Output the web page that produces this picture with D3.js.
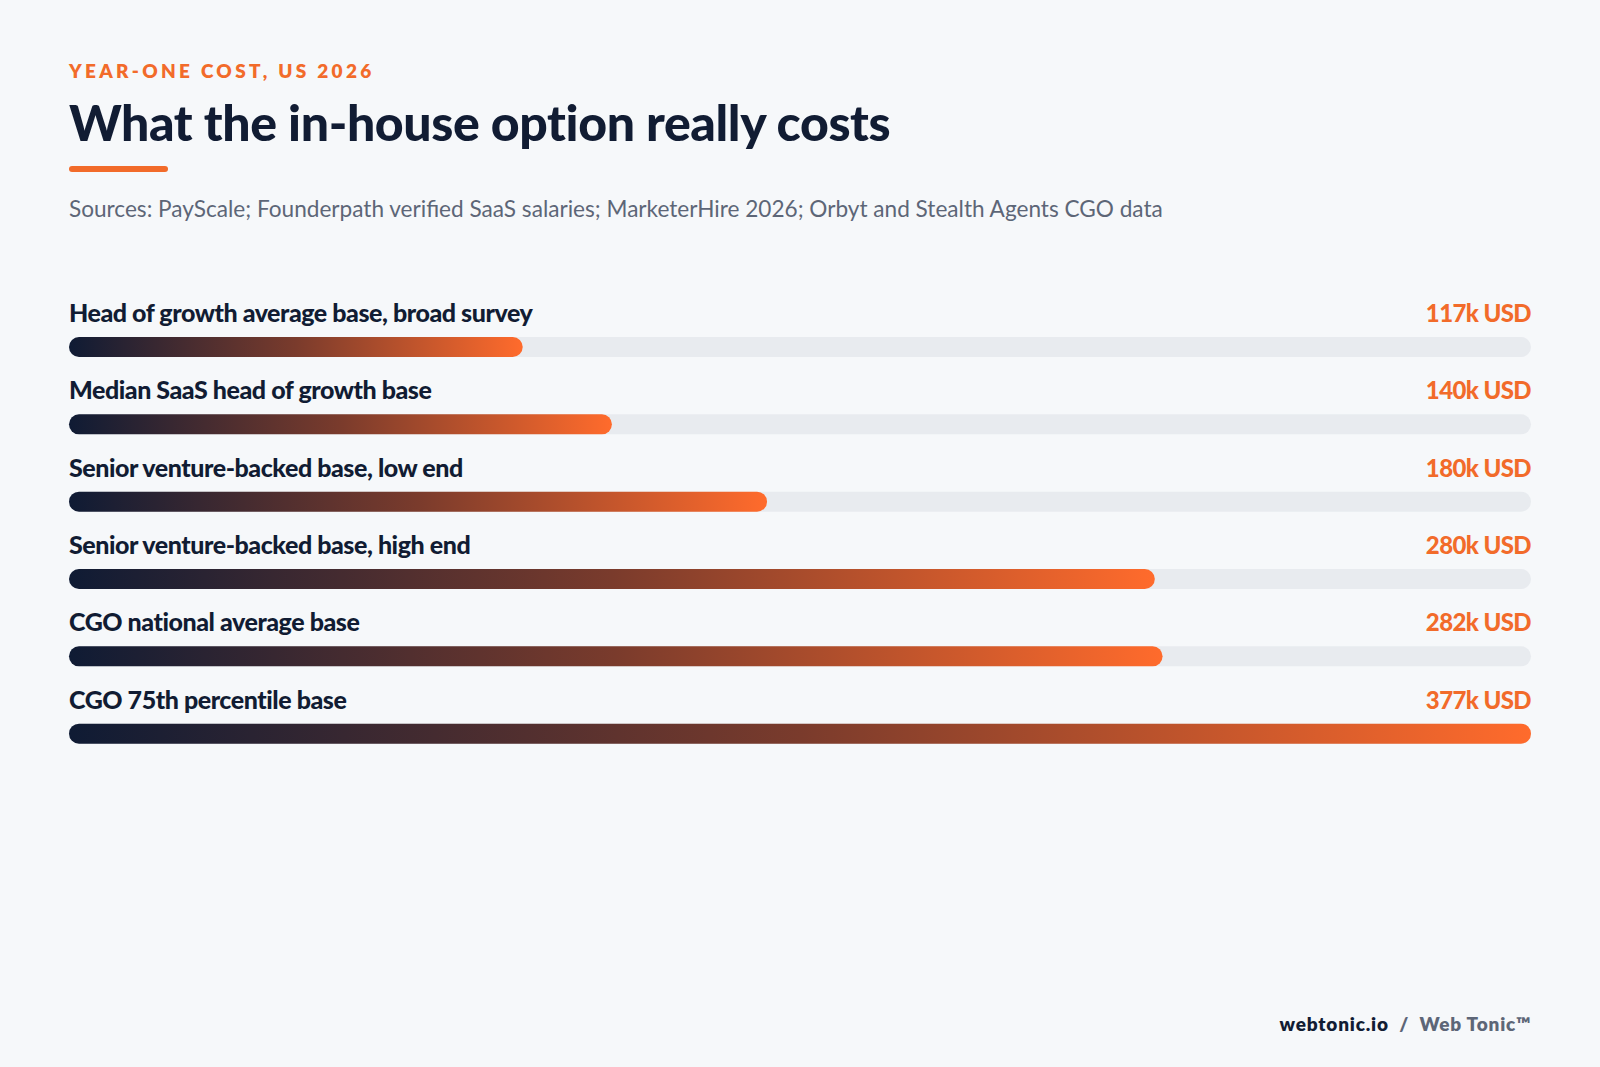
<!DOCTYPE html>
<html><head><meta charset="utf-8">
<script src="https://cdn.jsdelivr.net/npm/d3@7"></script>
<style>body{margin:0;background:#f6f8fa;}svg{display:block;font-family:Lato,sans-serif;}</style>
</head><body><svg id="c" width="1600" height="1067"></svg>
<script>
const categories=["Head of growth average base, broad survey","Median SaaS head of growth base","Senior venture-backed base, low end","Senior venture-backed base, high end","CGO national average base","CGO 75th percentile base"];
const values=[117,140,180,280,282,377];
const valueLabels=["117k USD","140k USD","180k USD","280k USD","282k USD","377k USD"];
const svg=d3.select("#c");
svg.append("rect").attr("width",1600).attr("height",1067).attr("fill","#f6f8fa");
const L=69,R=1531;
svg.append("text").attr("x",L).attr("y",78).attr("fill","#f26b2a").attr("font-size",19).attr("font-weight",800).attr("letter-spacing",3.3).text("YEAR-ONE COST, US 2026");
svg.append("text").attr("x",L).attr("y",141).attr("fill","#111c33").attr("font-size",50).attr("font-weight",900).attr("letter-spacing",-0.4).text("What the in-house option really costs");
svg.append("rect").attr("x",L).attr("y",166).attr("width",99).attr("height",6).attr("rx",3).attr("fill","#f26b2a");
svg.append("text").attr("x",L).attr("y",217).attr("fill","#5d6677").attr("font-size",22.6).text("Sources: PayScale; Founderpath verified SaaS salaries; MarketerHire 2026; Orbyt and Stealth Agents CGO data");
const x=d3.scaleLinear().domain([0,377]).range([L,R]);
const y=d3.scaleBand().domain(categories).range([300,764]).paddingInner(0);
const defs=svg.append("defs");
const bh=20;
categories.forEach((c,i)=>{
  const y0=y(c);
  const g=defs.append("linearGradient").attr("id","g"+i).attr("gradientUnits","userSpaceOnUse").attr("x1",x(0)).attr("x2",x(values[i])).attr("y1",0).attr("y2",0);
  g.append("stop").attr("offset",0).attr("stop-color","#0f1b34");
  g.append("stop").attr("offset",0.5).attr("stop-color","#7a3b2c");
  g.append("stop").attr("offset",1).attr("stop-color","#ff6b2c");
  svg.append("text").attr("x",L).attr("y",y0+22).attr("fill","#111c33").attr("font-size",25).attr("font-weight",900).attr("letter-spacing",-0.45).text(c);
  svg.append("text").attr("x",R).attr("y",y0+22).attr("text-anchor","end").attr("fill","#f26b2a").attr("font-size",24).attr("font-weight",900).attr("letter-spacing",-0.6).text(valueLabels[i]);
  svg.append("rect").attr("x",x(0)).attr("y",y0+37).attr("width",x(377)-x(0)).attr("height",bh).attr("rx",bh/2).attr("fill","#e8ebef");
  svg.append("rect").attr("x",x(0)).attr("y",y0+37).attr("width",x(values[i])-x(0)).attr("height",bh).attr("rx",bh/2).attr("fill","url(#g"+i+")");
});
const f=svg.append("text").attr("x",R).attr("y",1031).attr("text-anchor","end").attr("font-size",19).attr("font-weight",800).attr("letter-spacing",0.8);
f.append("tspan").attr("fill","#111c33").text("webtonic.io");
f.append("tspan").attr("fill","#5d6677").attr("xml:space","preserve").text("  /  Web Tonic™");
</script></body></html>
